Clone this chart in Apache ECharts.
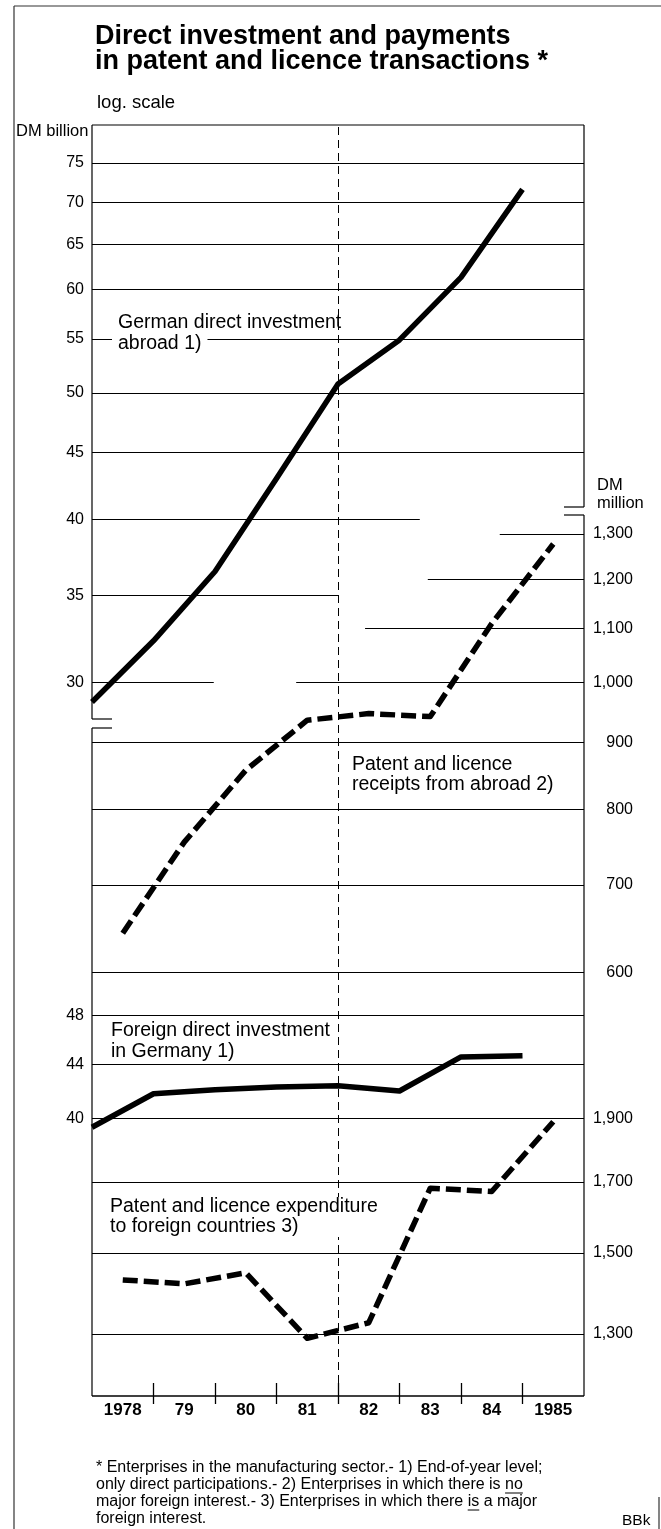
<!DOCTYPE html>
<html><head><meta charset="utf-8">
<script src="https://cdn.jsdelivr.net/npm/echarts@6.0.0/dist/echarts.min.js"></script>
<style>html,body{margin:0;padding:0;background:#fff}#c{width:661px;height:1529px}</style>
</head><body><div id="c"></div>
<script>
// ---------------- data ----------------
const YEARS = ['1978', '79', '80', '81', '82', '83', '84', '1985'];
// end-of-year levels, end-1977 ... end-1984 (DM billion, log scale)
const GERMAN_DI_ABROAD = [29.0, 32.3, 36.5, 43.0, 50.8, 54.9, 61.3, 71.6];
const FOREIGN_DI_GERMANY = [39.4, 41.8, 42.1, 42.3, 42.4, 42.0, 44.6, 44.7];
// annual flows 1978 ... 1985 (DM million, log scale)
const PATENT_RECEIPTS = [643, 755, 857, 936, 947, 942, 1110, 1277];
const PATENT_EXPENDITURE = [1430, 1420, 1448, 1290, 1326, 1681, 1671, 1890];
// tick values
const TICKS_GERMAN = [75, 70, 65, 60, 55, 50, 45, 40, 35, 30];
const TICKS_RECEIPTS = [1300, 1200, 1100, 1000, 900, 800, 700, 600];
const TICKS_FOREIGN = [48, 44, 40];
const TICKS_EXPEND = [1900, 1700, 1500, 1300];

// ---------------- layout ----------------
const W = 661, H = 1529;
const L = 92, R = 584, T = 125, B = 1396;
const K = 1306; // px per decade (same log scale for all four series)
const FONT = '"Liberation Sans", Arial, Helvetica, sans-serif';
function logExtent(val, px) {
  const a = Math.log10(val);
  return [Math.pow(10, a - (B - px) / K), Math.pow(10, a + (px - T) / K)];
}
const EXT = [logExtent(30, 682.7), logExtent(1000, 682.7), logExtent(40, 1118.7), logExtent(1900, 1118.7)];
// partial gridline extents (in year-band units, 0..8)
const PART_GERMAN = {40: [0, 5.33], 35: [0, 4.0], 30: [0, 1.98]};
const PART_RECEIPTS = {1300: [6.63, 8], 1200: [5.46, 8], 1100: [4.44, 8], 1000: [3.32, 8]};

const fmt = v => v >= 1000 ? v.toLocaleString('en-US') : String(v);
function gridLines(ticks, part, side) {
  return ticks.map(v => {
    const e = part[v] || [0, 8];
    const label = side === 'left'
      ? {show: true, position: 'start', distance: 8, formatter: fmt(v), color: '#000', fontSize: 16, fontFamily: FONT}
      : {show: true, position: 'end', distance: 9, formatter: '{r|' + fmt(v) + '}',
         rich: {r: {width: 40, align: 'right', fontSize: 16, fontFamily: FONT, color: '#000'}}};
    return [{coord: [e[0], v], label: label}, {coord: [e[1], v]}];
  });
}
function mk(data) {
  return {silent: true, symbol: 'none', animation: false, z: 3,
    label: {show: false}, lineStyle: {color: '#000', width: 1.1, type: 'solid'}, data: data};
}
const solid = {color: '#000', width: 5.5, type: 'solid', join: 'round', cap: 'butt'};
const dashed = {color: '#000', width: 5.5, type: [15, 6], join: 'round', cap: 'butt'};
const base = {type: 'line', symbol: 'none', silent: true, animation: false, z: 10, xAxisIndex: 0, smooth: false};

const series = [
  Object.assign({}, base, {name: 'German direct investment abroad', yAxisIndex: 0,
    data: GERMAN_DI_ABROAD.map((v, i) => [i, v]), lineStyle: solid,
    markLine: mk(gridLines(TICKS_GERMAN, PART_GERMAN, 'left').concat([
      {xAxis: 4, label: {show: false}, lineStyle: {type: [8, 5], width: 1, color: '#000'}}]))}),
  Object.assign({}, base, {name: 'Patent and licence receipts', yAxisIndex: 1,
    data: PATENT_RECEIPTS.map((v, i) => [i + 0.5, v]), lineStyle: dashed,
    markLine: mk(gridLines(TICKS_RECEIPTS, PART_RECEIPTS, 'right'))}),
  Object.assign({}, base, {name: 'Foreign direct investment in Germany', yAxisIndex: 2,
    data: FOREIGN_DI_GERMANY.map((v, i) => [i, v]), lineStyle: solid,
    markLine: mk(gridLines(TICKS_FOREIGN, {}, 'left'))}),
  Object.assign({}, base, {name: 'Patent and licence expenditure', yAxisIndex: 3,
    data: PATENT_EXPENDITURE.map((v, i) => [i + 0.5, v]), lineStyle: dashed,
    markLine: mk(gridLines(TICKS_EXPEND, {}, 'right'))})
];

// ---------------- graphics (frame, texts) ----------------
const mctx = document.createElement('canvas').getContext('2d');
function tw(s, size) { mctx.font = size + 'px ' + FONT; return mctx.measureText(s).width; }
function seg(x1, y1, x2, y2, w, c) {
  return {type: 'line', silent: true, z: 20, shape: {x1, y1, x2, y2},
    style: {stroke: c || '#000', lineWidth: w || 1.2}};
}
function txt(x, y, text, size, extra) {
  return {type: 'text', x, y, silent: true, z: 8,
    style: Object.assign({text, fill: '#000', fontSize: size, fontFamily: FONT, fontWeight: 'normal',
      align: 'left', verticalAlign: 'middle'}, extra || {})};
}
const g = [];
// outer page border
g.push(seg(14, 6, 14, H, 1.2, '#333'));
g.push(seg(14, 6, W, 6, 1.2, '#333'));
g.push(seg(659, 1497, 659, H, 1.2, '#333'));
// plot frame with axis breaks
g.push(seg(L, T, R, T));
g.push(seg(L, B, R, B, 1.3));
g.push(seg(L, T, L, 719), seg(L, 719, L + 20, 719), seg(L, 728, L + 20, 728), seg(L, 728, L, B));
g.push(seg(R, T, R, 507), seg(R - 20, 507, R, 507), seg(R - 20, 515, R, 515), seg(R, 515, R, B));
// title & units
g.push(txt(95, 37, 'Direct investment and payments', 27, {fontWeight: 'bold'}));
g.push(txt(95, 62, 'in patent and licence transactions *', 27, {fontWeight: 'bold'}));
g.push(txt(97, 103, 'log. scale', 18.5));
g.push(txt(16, 131, 'DM billion', 16.5));
g.push(txt(597, 485, 'DM', 16.5));
g.push(txt(597, 503, 'million', 16.5));
// series annotations
const ANN = 19.5;
g.push(txt(118, 323, 'German direct investment', ANN));
g.push(txt(112, 344, 'abroad 1)', ANN, {backgroundColor: '#fff', padding: [3, 6, 3, 6]}));
g.push(txt(350, 775, 'Patent and licence\nreceipts from abroad 2)', ANN, {lineHeight: 20, backgroundColor: '#fff', padding: [0, 2]}));
g.push(txt(109, 1041, 'Foreign direct investment\nin Germany 1)', ANN, {lineHeight: 21.5, backgroundColor: '#fff', padding: [0, 2]}));
g.push(txt(108, 1217, 'Patent and licence expenditure\nto foreign countries 3)', ANN, {lineHeight: 20, backgroundColor: '#fff', padding: [0, 2]}));
// footnote
const FN_X = 96, FN_Y0 = 1468, FN_DY = 17, FN_SIZE = 16;
const FOOTNOTE = [
  '* Enterprises in the manufacturing sector.- 1) End-of-year level;',
  'only direct participations.- 2) Enterprises in which there is no',
  'major foreign interest.- 3) Enterprises in which there is a major',
  'foreign interest.'
];
FOOTNOTE.forEach((s, i) => g.push(txt(FN_X, FN_Y0 + i * FN_DY, s, FN_SIZE)));
[[1, 'only direct participations.- 2) Enterprises in which there is ', 'no'],
 [2, 'major foreign interest.- 3) Enterprises in which there ', 'is']].forEach(u => {
  const x0 = FN_X + tw(u[1], FN_SIZE), x1 = x0 + tw(u[2], FN_SIZE);
  const y = FN_Y0 + u[0] * FN_DY + 8;
  g.push(seg(x0, y, x1, y, 1));
});
g.push(txt(622, 1521, 'BBk', 15.5));

// ---------------- chart ----------------
const chart = echarts.init(document.getElementById('c'), null, {renderer: 'canvas', width: W, height: H});
chart.setOption({
  animation: false,
  backgroundColor: '#fff',
  grid: {left: L, right: W - R, top: T, bottom: H - B, containLabel: false},
  xAxis: [{
    type: 'value', min: 0, max: 8, position: 'bottom', offset: -13,
    splitLine: {show: false}, axisLine: {show: false},
    axisTick: {show: true, customValues: [1, 2, 3, 4, 5, 6, 7], length: 21, inside: false,
      lineStyle: {color: '#000', width: 1.3}},
    axisLabel: {show: true, customValues: YEARS.map((_, i) => i + 0.5),
      formatter: v => YEARS[Math.floor(v)] || '', fontWeight: 'bold', fontSize: 17,
      fontFamily: FONT, color: '#000', margin: 19}
  }],
  yAxis: EXT.map(e => ({type: 'log', logBase: 10, min: e[0], max: e[1], show: false})),
  series: series,
  graphic: {elements: g}
});
</script>
</body></html>
